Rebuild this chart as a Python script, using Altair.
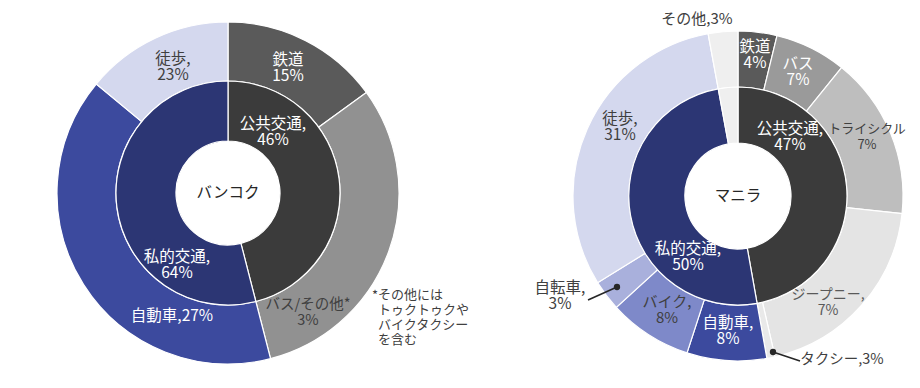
import math
import altair as alt
import pandas as pd

# ---------------- data ----------------
# Bangkok
bkk_outer_names = ["鉄道", "バス/その他", "自動車", "徒歩"]
bkk_outer_values = [15.0, 31.0, 40.0, 14.0]
bkk_inner_names = ["公共交通", "私的交通"]
bkk_inner_values = [46.0, 54.0]

# Manila
mnl_outer_names = ["鉄道", "バス", "トライシクル", "ジープニー", "タクシー",
                   "自動車", "バイク", "自転車", "徒歩", "その他"]
mnl_outer_values = [3.8, 7.0, 15.9, 19.7, 0.8, 7.8, 8.2, 3.0, 30.9, 2.9]
mnl_inner_names = ["公共交通", "私的交通", "その他"]
mnl_inner_values = [47.2, 49.9, 2.9]

# label texts (as printed in the source)
bkk_labels = ["鉄道\n15%", "公共交通,\n46%", "バンコク", "私的交通,\n64%",
              "自動車,27%", "バス/その他*\n3%", "徒歩,\n23%"]
mnl_labels = ["その他,3%", "鉄道\n4%", "バス\n7%", "公共交通,\n47%", "トライシクル\n7%",
              "マニラ", "徒歩,\n31%", "私的交通,\n50%", "ジープニー,\n7%", "自動車,\n8%",
              "バイク,\n8%", "自転車,\n3%", "タクシー,3%"]
footnote_star = "*"
footnote_text = "その他には\nトゥクトゥクや\nバイクタクシー\nを含む"

# ---------------- styles / layout ----------------
bkk_outer_colors = ["#5a5a5a", "#919191", "#3c4a9e", "#d4d8ee"]
bkk_inner_colors = ["#3b3b3b", "#2c3674"]
mnl_outer_colors = ["#5a5a5a", "#9a9a9a", "#bebebe", "#e4e4e4", "#e9e9e9",
                    "#3c4a9e", "#7e89c9", "#a9b0dc", "#d4d8ee", "#efefef"]
mnl_inner_colors = ["#3b3b3b", "#2c3674", "#efefef"]

BKK_C = (220, 185)
MNL_C = (730, 188)
BKK_R = (52, 112, 171)
MNL_R = (53, 109, 165)

LH = 16  # label line height

# block centres of the labels
bkk_label_pos = [(280, 60), (265, 124), (220, 185), (169, 257), (164, 308), (300, 305), (165, 59)]
bkk_label_col = ["#ffffff", "#ffffff", "#262626", "#ffffff", "#ffffff", "#404040", "#404040"]
bkk_label_size = [15.5, 15.5, 15.5, 15.5, 15.5, 14.5, 15.5]
mnl_label_pos = [(689, 11), (747, 47), (790, 64), (782, 129), (859, 129), (730, 188),
                 (612, 119), (680, 249), (820, 295), (720, 323), (659, 302), (552, 288), (834, 352)]
mnl_label_col = ["#404040", "#ffffff", "#ffffff", "#ffffff", "#404040", "#262626",
                 "#404040", "#ffffff", "#595959", "#ffffff", "#404040", "#404040", "#404040"]
mnl_label_size = [15, 15.5, 15.5, 15.5, 13, 15.5, 15.5, 15.5, 14, 15.5, 15, 15.5, 14.5]


def ring(names, values, colors, center, r_in, r_out):
    rows = []
    start = 0.0
    for n, v, c in zip(names, values, colors):
        rows.append({"name": n, "t0": start, "t1": start + v, "color": c,
                     "cx": center[0], "cy": center[1], "ri": r_in, "ro": r_out})
        start += v
    return rows


arc_rows = []
arc_rows += ring(bkk_outer_names, bkk_outer_values, bkk_outer_colors, BKK_C, BKK_R[1], BKK_R[2])
arc_rows += ring(bkk_inner_names, bkk_inner_values, bkk_inner_colors, BKK_C, BKK_R[0], BKK_R[1])
arc_rows += ring(mnl_outer_names, mnl_outer_values, mnl_outer_colors, MNL_C, MNL_R[1], MNL_R[2])
arc_rows += ring(mnl_inner_names, mnl_inner_values, mnl_inner_colors, MNL_C, MNL_R[0], MNL_R[1])
arcs_df = pd.DataFrame(arc_rows)

label_rows = []
for texts, poss, cols, sizes in ((bkk_labels, bkk_label_pos, bkk_label_col, bkk_label_size),
                                 (mnl_labels, mnl_label_pos, mnl_label_col, mnl_label_size)):
    for t, p, c, s in zip(texts, poss, cols, sizes):
        n = t.count("\n") + 1
        label_rows.append({"text": t, "x": p[0], "y": p[1] - (n - 1) * LH / 2,
                           "color": c, "size": s})
labels_df = pd.DataFrame(label_rows)

FONT = "Noto Sans CJK JP"

arcs = alt.Chart(arcs_df).mark_arc(stroke="white", strokeWidth=1.2).encode(
    x=alt.X("cx:Q", scale=None),
    y=alt.Y("cy:Q", scale=None),
    theta=alt.Theta("t0:Q", scale=alt.Scale(domain=[0, 100], range=[0, 2 * math.pi])),
    theta2="t1:Q",
    radius=alt.Radius("ro:Q", scale=None),
    radius2="ri:Q",
    color=alt.Color("color:N", scale=None),
)

labels = alt.Chart(labels_df).mark_text(
    font=FONT, lineBreak="\n", lineHeight=LH, align="center", baseline="middle"
).encode(
    x=alt.X("x:Q", scale=None),
    y=alt.Y("y:Q", scale=None),
    text="text:N",
    color=alt.Color("color:N", scale=None),
    size=alt.Size("size:Q", scale=None),
)

foot_df = pd.DataFrame({"x": [364, 370], "y": [288, 287],
                        "text": [footnote_star, footnote_text]})
foot = alt.Chart(foot_df).mark_text(
    font=FONT, fontSize=13, lineBreak="\n", lineHeight=15, align="left", baseline="middle",
    color="#404040"
).encode(
    x=alt.X("x:Q", scale=None),
    y=alt.Y("y:Q", scale=None),
    text="text:N",
)

leader_df = pd.DataFrame({"x": [580, 765], "y": [292, 344], "x2": [609, 792], "y2": [279, 353]})
leaders = alt.Chart(leader_df).mark_rule(color="#262626", strokeWidth=1.6).encode(
    x=alt.X("x:Q", scale=None), y=alt.Y("y:Q", scale=None),
    x2="x2:Q", y2="y2:Q",
)
dots_df = pd.DataFrame({"x": [609, 765], "y": [279, 344]})
dots = alt.Chart(dots_df).mark_point(filled=True, size=40, color="#262626", opacity=1).encode(
    x=alt.X("x:Q", scale=None), y=alt.Y("y:Q", scale=None),
)

chart = alt.layer(arcs, labels, foot, leaders, dots).properties(
    width=904, height=370, autosize=alt.AutoSizeParams(type="none"), padding=0
).configure_view(stroke=None)

chart.save("out.html", embed_options={"renderer": "svg", "actions": False})
